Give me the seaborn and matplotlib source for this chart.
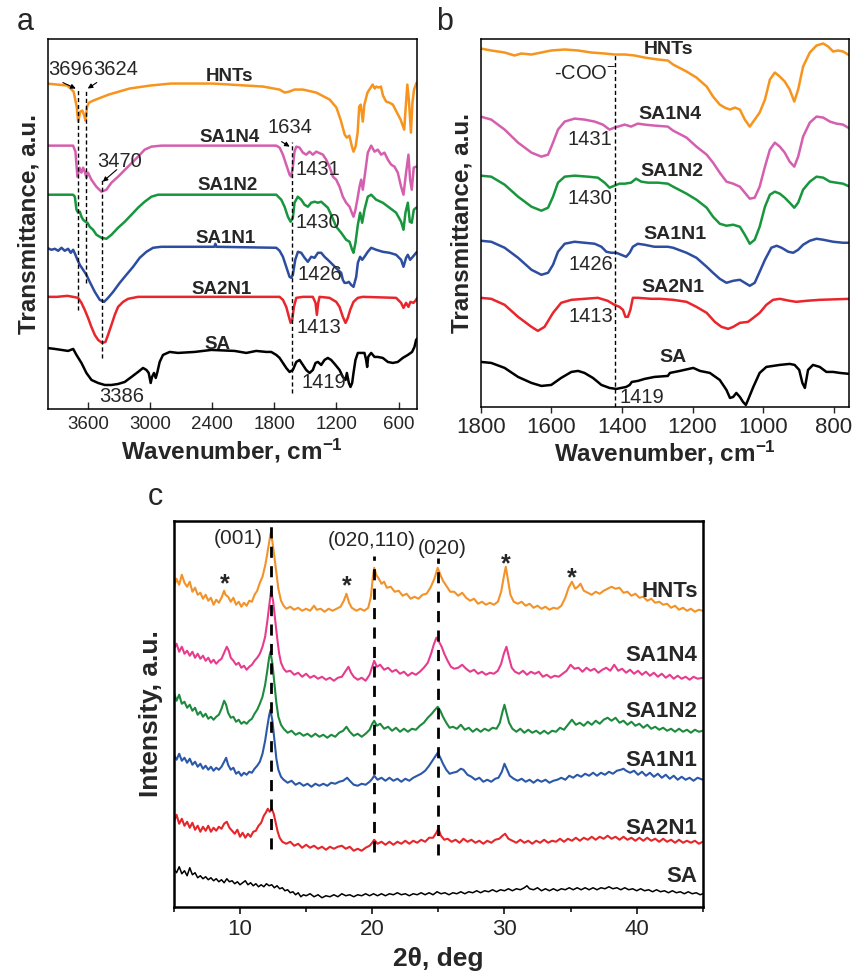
import matplotlib
matplotlib.use("Agg")
import matplotlib.pyplot as plt
import pandas as pd
import seaborn as sns

# ---------- FTIR, full range (panel a): (wavenumber, transmittance a.u., stacked) ----------
ftir_hnts = [(4000, 32.5), (3800, 32.3), (3740, 31.7), (3710, 30.2), (3696, 28.7), (3675, 29.7),
             (3655, 29.8), (3640, 29.4), (3624, 28.8), (3610, 30.2), (3590, 30.6), (3550, 30.8),
             (3400, 31.4), (3200, 32.0), (3000, 32.3), (2800, 32.5), (2400, 32.5), (2230, 32.4),
             (1910, 32.2), (1750, 31.9), (1700, 31.6), (1655, 31.7), (1605, 31.9), (1525, 31.9),
             (1395, 31.6), (1265, 30.9), (1200, 30.1), (1160, 28.9), (1120, 27.4), (1100, 27.1),
             (1075, 27.3), (1050, 26.2), (1035, 25.7), (1015, 26.2), (995, 27.6), (980, 30.2),
             (965, 30.4), (945, 28.7), (930, 30.4), (900, 31.6), (850, 32.4), (830, 32.0),
             (815, 32.2), (790, 32.1), (770, 32.2), (750, 31.3), (720, 30.7), (690, 30.6),
             (655, 30.4), (620, 29.7), (580, 28.9), (545, 27.9), (530, 30.2), (515, 32.4),
             (500, 30.9), (480, 27.6), (465, 30.6), (450, 31.9), (425, 32.6)]
ftir_sa1n4 = [(4000, 26.3), (3745, 26.3), (3722, 25.7), (3703, 23.2), (3683, 24.1), (3664, 23.6),
              (3648, 24.1), (3632, 23.7), (3616, 23.1), (3600, 23.6), (3568, 22.9), (3520, 22.2),
              (3471, 21.7), (3423, 21.9), (3374, 22.6), (3310, 23.2), (3214, 24.2), (3117, 25.2),
              (3053, 25.9), (2988, 26.2), (2892, 26.3), (1781, 26.3), (1749, 26.1), (1717, 25.4),
              (1685, 24.4), (1653, 23.4), (1637, 23.2), (1621, 24.2), (1605, 25.7), (1588, 26.2),
              (1556, 26.1), (1524, 25.6), (1492, 25.4), (1460, 25.7), (1428, 25.4), (1395, 25.7),
              (1331, 25.4), (1299, 24.9), (1267, 24.2), (1234, 23.2), (1202, 22.9), (1170, 22.2),
              (1138, 21.2), (1106, 20.6), (1073, 20.2), (1051, 19.6), (1035, 19.2), (1016, 19.9),
              (993, 21.2), (977, 22.2), (961, 22.9), (945, 21.9), (929, 23.1), (897, 25.6),
              (864, 26.3), (832, 25.7), (800, 25.9), (768, 25.4), (736, 25.6), (703, 24.9),
              (671, 24.4), (639, 24.2), (607, 23.6), (575, 22.2), (552, 21.4), (527, 23.6),
              (504, 25.4), (488, 22.9), (472, 21.9), (453, 24.1), (430, 24.2), (420, 24.2)]
ftir_sa1n2 = [(4000, 21.4), (3745, 21.4), (3728, 21.2), (3712, 19.9), (3696, 19.6), (3680, 19.7),
              (3664, 19.2), (3648, 18.9), (3625, 18.7), (3606, 18.6), (3584, 18.2), (3552, 17.9),
              (3519, 17.4), (3471, 17.1), (3423, 17.0), (3374, 17.4), (3310, 18.1), (3246, 18.7),
              (3181, 19.4), (3117, 20.1), (3053, 20.7), (2988, 21.2), (2924, 21.4), (1781, 21.4),
              (1733, 20.9), (1701, 20.2), (1669, 19.2), (1643, 18.7), (1621, 19.1), (1605, 20.6),
              (1573, 21.2), (1540, 20.9), (1508, 20.4), (1476, 20.2), (1444, 20.6), (1411, 20.7),
              (1379, 20.6), (1347, 20.7), (1315, 20.4), (1283, 20.1), (1251, 19.4), (1202, 18.2),
              (1154, 17.6), (1106, 16.9), (1073, 16.7), (1048, 15.9), (1035, 15.6), (1016, 16.6),
              (993, 18.4), (971, 19.6), (951, 18.6), (929, 19.9), (897, 21.2), (864, 21.4),
              (816, 20.9), (752, 20.6), (687, 20.1), (623, 19.6), (575, 18.7), (552, 17.9),
              (533, 19.6), (510, 20.6), (491, 18.7), (472, 18.6), (452, 19.9), (430, 20.1), (420, 20.1)]
ftir_sa1n1 = [(4000, 16.1), (3954, 15.9), (3921, 16.0), (3889, 15.8), (3857, 16.1), (3825, 15.8),
              (3793, 16.0), (3767, 15.6), (3744, 15.9), (3722, 15.4), (3703, 14.9), (3680, 14.4),
              (3648, 13.9), (3616, 13.4), (3584, 12.7), (3535, 11.7), (3487, 10.9), (3445, 10.7),
              (3407, 11.1), (3358, 11.7), (3294, 12.6), (3230, 13.4), (3165, 14.2), (3101, 15.1),
              (3036, 15.7), (2972, 16.1), (2892, 16.2), (2380, 16.2), (2370, 16.5), (2360, 16.2),
              (1781, 16.1), (1749, 15.8), (1717, 15.2), (1685, 14.2), (1653, 13.2), (1637, 13.1),
              (1621, 13.4), (1598, 14.9), (1572, 15.7), (1540, 15.6), (1508, 15.1), (1476, 14.7),
              (1444, 15.2), (1411, 15.1), (1379, 15.6), (1347, 15.6), (1315, 15.2), (1283, 14.9),
              (1234, 14.4), (1186, 13.9), (1154, 13.6), (1138, 12.9), (1122, 12.6), (1099, 12.6),
              (1080, 12.7), (1058, 12.4), (1035, 12.2), (1009, 13.2), (993, 14.6), (971, 15.2),
              (951, 14.9), (929, 15.2), (897, 15.7), (864, 16.1), (816, 15.9), (752, 15.7),
              (687, 15.6), (623, 15.4), (575, 14.9), (552, 14.2), (527, 15.1), (510, 15.4),
              (488, 14.9), (462, 15.2), (430, 15.6), (420, 15.7)]
ftir_sa2n1 = [(4000, 11.2), (3900, 11.2), (3800, 11.3), (3745, 11.2), (3696, 11.1), (3664, 10.6),
              (3632, 9.9), (3600, 9.1), (3568, 8.2), (3535, 7.4), (3503, 6.9), (3465, 6.6),
              (3432, 6.7), (3407, 7.4), (3374, 8.4), (3342, 9.4), (3310, 10.2), (3262, 10.7),
              (3214, 11.0), (3117, 11.2), (3053, 11.2), (2400, 11.2), (1749, 11.2), (1717, 10.9),
              (1685, 10.2), (1659, 9.2), (1643, 8.6), (1627, 8.9), (1611, 10.2), (1588, 11.1),
              (1524, 11.2), (1428, 11.2), (1402, 10.6), (1389, 9.4), (1376, 10.6), (1363, 11.2),
              (1267, 11.1), (1202, 10.7), (1170, 10.2), (1138, 9.2), (1112, 8.6), (1090, 9.1),
              (1067, 9.9), (1035, 10.7), (993, 11.1), (945, 11.2), (623, 11.1), (575, 10.6),
              (552, 10.1), (527, 10.6), (504, 10.2), (485, 10.7), (456, 10.6), (430, 10.9), (420, 11.1)]
ftir_sa = [(4000, 6.1), (3921, 6.0), (3857, 5.9), (3793, 5.8), (3744, 6.0), (3712, 5.4), (3664, 4.6),
           (3616, 3.6), (3567, 2.9), (3503, 2.6), (3439, 2.4), (3374, 2.4), (3310, 2.5), (3246, 2.7),
           (3181, 3.2), (3117, 3.7), (3069, 4.1), (3036, 3.9), (3014, 3.6), (2995, 2.6), (2982, 3.2),
           (2963, 3.6), (2946, 3.1), (2930, 3.7), (2908, 4.7), (2876, 5.4), (2811, 5.7), (2731, 5.6),
           (2570, 5.7), (2409, 5.9), (2184, 5.8), (2071, 5.6), (1975, 5.8), (1878, 5.7), (1830, 5.7),
           (1781, 5.4), (1749, 5.1), (1717, 4.6), (1685, 4.1), (1653, 3.7), (1621, 3.9), (1588, 4.7),
           (1556, 4.9), (1524, 4.4), (1492, 3.9), (1460, 3.6), (1428, 3.9), (1402, 4.6), (1379, 4.7),
           (1347, 4.4), (1315, 4.9), (1283, 5.1), (1251, 4.9), (1209, 4.4), (1170, 3.9), (1138, 3.2),
           (1112, 2.9), (1099, 3.6), (1080, 2.6), (1064, 2.2), (1048, 2.6), (1035, 3.6), (1016, 4.9),
           (993, 5.6), (961, 5.6), (929, 5.6), (913, 4.9), (903, 4.2), (893, 5.2), (880, 5.4),
           (864, 5.6), (832, 5.2), (800, 5.2), (752, 5.1), (703, 4.7), (655, 4.6), (607, 4.7),
           (559, 5.1), (510, 5.4), (469, 5.7), (446, 6.2), (430, 6.9), (414, 7.1)]

# ---------- FTIR, 1800-750 cm-1 (panel b) ----------
zoom_hnts = [(1800, 35.8), (1770, 35.6), (1732, 35.4), (1704, 35.1), (1685, 35.3), (1656, 35.2),
             (1628, 35.4), (1600, 35.6), (1562, 35.7), (1524, 35.6), (1487, 35.4), (1449, 35.3),
             (1421, 35.2), (1392, 35.2), (1364, 35.1), (1336, 34.9), (1298, 34.7), (1270, 34.6),
             (1255, 34.2), (1217, 33.5), (1189, 32.9), (1160, 32.0), (1142, 31.0), (1123, 30.2),
             (1109, 29.9), (1094, 29.7), (1080, 29.9), (1066, 29.7), (1052, 28.7), (1038, 28.0),
             (1024, 28.7), (1010, 29.4), (995, 30.7), (981, 32.7), (967, 33.4), (953, 33.0),
             (939, 32.5), (925, 31.7), (912, 30.5), (901, 31.7), (887, 34.0), (868, 35.4),
             (849, 36.1), (830, 36.3), (816, 36.0), (802, 35.5), (788, 35.6), (774, 35.5), (755, 35.1)]
zoom_sa1n4 = [(1800, 29.0), (1770, 28.7), (1732, 27.7), (1694, 26.4), (1656, 25.4), (1628, 25.0),
              (1609, 25.2), (1595, 26.4), (1581, 27.7), (1562, 28.5), (1534, 28.8), (1506, 28.7),
              (1477, 28.5), (1454, 28.2), (1435, 27.7), (1421, 27.9), (1411, 28.0), (1392, 28.2),
              (1374, 28.0), (1355, 28.3), (1336, 28.2), (1308, 28.1), (1270, 28.0), (1255, 27.6),
              (1217, 26.9), (1189, 26.0), (1160, 25.2), (1142, 24.4), (1123, 23.4), (1104, 22.5),
              (1085, 22.3), (1066, 22.0), (1052, 21.4), (1038, 20.8), (1024, 20.9), (1010, 22.0),
              (995, 24.0), (981, 25.7), (967, 26.4), (953, 26.0), (939, 25.4), (925, 24.5),
              (912, 24.0), (901, 25.0), (887, 27.0), (868, 28.4), (849, 29.0), (830, 28.9),
              (811, 28.5), (793, 28.3), (774, 28.2), (755, 27.8)]
zoom_sa1n2 = [(1800, 23.1), (1770, 23.0), (1732, 22.2), (1694, 21.0), (1656, 20.0), (1628, 19.6),
              (1609, 19.9), (1595, 21.0), (1581, 22.4), (1562, 23.0), (1534, 23.1), (1496, 23.0),
              (1468, 22.9), (1449, 22.4), (1435, 21.9), (1421, 22.1), (1407, 22.3), (1392, 22.3),
              (1374, 22.4), (1360, 22.8), (1345, 22.5), (1326, 22.4), (1298, 22.4), (1270, 22.3),
              (1255, 22.0), (1217, 21.3), (1189, 20.7), (1160, 19.9), (1142, 19.0), (1123, 18.3),
              (1104, 18.1), (1085, 18.2), (1066, 18.0), (1052, 17.2), (1038, 16.3), (1024, 16.7),
              (1010, 18.0), (995, 20.0), (981, 21.2), (967, 21.5), (953, 21.3), (939, 20.9),
              (925, 20.4), (912, 19.9), (901, 20.4), (887, 21.7), (868, 22.5), (849, 23.0),
              (830, 22.9), (811, 22.5), (793, 22.4), (774, 22.3), (755, 22.0)]
zoom_sa1n1 = [(1800, 16.6), (1770, 16.5), (1732, 15.9), (1694, 14.9), (1656, 13.7), (1628, 13.2),
              (1609, 13.4), (1595, 14.2), (1581, 15.5), (1562, 16.3), (1534, 16.5), (1506, 16.4),
              (1477, 16.3), (1458, 16.0), (1444, 15.5), (1430, 15.4), (1416, 15.4), (1402, 15.2),
              (1388, 15.0), (1378, 15.4), (1369, 16.0), (1355, 16.3), (1336, 16.2), (1308, 16.0),
              (1270, 16.0), (1255, 15.9), (1217, 15.4), (1189, 14.9), (1160, 14.0), (1142, 13.4),
              (1123, 12.8), (1104, 12.4), (1085, 12.6), (1066, 12.7), (1052, 12.4), (1038, 12.1),
              (1024, 12.4), (1010, 13.5), (995, 14.7), (977, 15.9), (962, 16.1), (948, 15.9),
              (929, 15.5), (915, 15.4), (901, 15.7), (887, 16.2), (868, 16.6), (849, 16.8),
              (830, 16.7), (802, 16.5), (774, 16.4), (755, 16.4)]
zoom_sa2n1 = [(1800, 10.9), (1770, 10.8), (1732, 10.2), (1694, 9.0), (1656, 8.0), (1638, 7.6),
              (1619, 8.0), (1595, 9.4), (1572, 10.4), (1543, 10.7), (1506, 10.8), (1468, 10.9),
              (1440, 10.6), (1421, 10.2), (1407, 10.0), (1397, 9.7), (1390, 9.0), (1383, 9.0),
              (1376, 9.7), (1369, 10.9), (1355, 10.9), (1317, 10.8), (1292, 10.8), (1255, 10.7),
              (1217, 10.5), (1189, 10.0), (1160, 9.4), (1137, 8.5), (1118, 8.0), (1099, 7.8),
              (1085, 8.0), (1066, 8.4), (1043, 8.5), (1028, 8.9), (1010, 9.4), (991, 10.2),
              (972, 10.7), (953, 10.8), (925, 10.6), (906, 10.5), (878, 10.6), (840, 10.7), (755, 10.8)]
zoom_sa = [(1800, 4.5), (1770, 4.4), (1732, 3.9), (1694, 3.0), (1656, 2.4), (1628, 2.1), (1600, 2.2),
           (1572, 2.9), (1543, 3.5), (1524, 3.6), (1506, 3.4), (1482, 2.9), (1458, 2.2), (1435, 1.9),
           (1416, 1.8), (1402, 1.9), (1388, 2.0), (1378, 2.2), (1372, 2.5), (1355, 2.6), (1336, 2.8),
           (1308, 3.0), (1270, 3.1), (1264, 3.4), (1236, 3.6), (1198, 3.9), (1179, 3.6), (1151, 3.4),
           (1123, 2.7), (1104, 1.7), (1094, 0.9), (1085, 1.0), (1076, 1.4), (1066, 1.0), (1057, 0.5),
           (1049, 0.2), (1043, 0.7), (1028, 2.0), (1010, 3.4), (991, 4.0), (953, 4.2), (925, 4.3),
           (911, 4.2), (898, 3.7), (889, 2.4), (882, 1.9), (878, 2.7), (873, 3.7), (859, 4.2),
           (840, 4.0), (821, 3.5), (802, 3.5), (783, 3.4), (755, 3.3)]

# ---------- XRD (panel c): (2theta, intensity a.u., stacked) ----------
xrd_hnts = [(5.0, 31.9), (5.2, 32.8), (5.4, 32.2), (5.6, 33.2), (5.8, 32.4), (6.0, 32.0), (6.2, 32.5),
            (6.4, 31.5), (6.6, 31.9), (6.8, 31.2), (7.0, 31.4), (7.2, 30.8), (7.4, 31.2), (7.6, 30.6),
            (7.8, 30.9), (8.0, 30.2), (8.2, 30.7), (8.4, 30.4), (8.6, 30.9), (8.8, 31.6), (8.9, 31.2),
            (9.1, 31.0), (9.3, 30.5), (9.5, 30.9), (9.7, 30.2), (9.9, 30.5), (10.1, 30.0), (10.3, 30.4),
            (10.5, 30.1), (10.7, 30.6), (10.9, 30.5), (11.1, 31.2), (11.3, 31.6), (11.5, 32.4),
            (11.7, 33.0), (11.9, 34.1), (12.05, 35.2), (12.2, 36.4), (12.32, 37.4), (12.45, 36.5),
            (12.6, 35.0), (12.75, 33.4), (12.9, 31.8), (13.1, 30.6), (13.3, 30.1), (13.5, 29.8),
            (13.8, 30.0), (14.1, 29.7), (14.4, 29.9), (14.7, 29.6), (15.0, 29.8), (15.3, 29.6),
            (15.6, 30.1), (15.8, 29.7), (16.1, 29.8), (16.4, 29.5), (16.7, 29.8), (17.0, 29.6),
            (17.3, 29.8), (17.6, 30.0), (17.85, 30.6), (18.05, 31.3), (18.25, 30.4), (18.45, 29.9),
            (18.8, 29.6), (19.1, 29.8), (19.4, 29.6), (19.7, 29.9), (19.9, 31.0), (20.05, 33.0),
            (20.15, 33.9), (20.3, 33.2), (20.5, 32.8), (20.7, 32.3), (20.9, 32.5), (21.1, 31.9),
            (21.4, 32.0), (21.7, 31.5), (22.0, 31.6), (22.3, 31.1), (22.6, 31.3), (22.9, 30.8),
            (23.2, 31.0), (23.5, 30.8), (23.8, 31.2), (24.1, 31.3), (24.4, 31.9), (24.7, 32.8),
            (24.95, 33.9), (25.15, 33.2), (25.35, 32.6), (25.6, 32.1), (25.9, 31.5), (26.2, 31.5),
            (26.5, 31.1), (26.8, 31.4), (27.1, 30.9), (27.4, 30.6), (27.7, 30.8), (28.0, 30.3),
            (28.3, 30.5), (28.6, 30.2), (28.9, 30.4), (29.2, 30.2), (29.5, 30.5), (29.75, 31.5),
            (29.95, 33.0), (30.1, 34.0), (30.25, 32.8), (30.45, 31.2), (30.7, 30.5), (31.0, 30.3),
            (31.3, 30.5), (31.6, 30.1), (31.9, 30.3), (32.2, 29.9), (32.5, 30.1), (32.8, 29.8),
            (33.1, 30.0), (33.4, 29.7), (33.7, 29.9), (34.0, 29.8), (34.3, 30.1), (34.6, 30.9),
            (34.85, 31.9), (35.1, 32.5), (35.35, 31.8), (35.55, 32.0), (35.75, 32.3), (36.0, 31.6),
            (36.3, 31.4), (36.6, 31.2), (36.9, 31.5), (37.2, 31.3), (37.5, 31.6), (37.8, 31.8),
            (38.1, 32.0), (38.4, 31.8), (38.7, 31.9), (39.0, 31.4), (39.3, 31.5), (39.6, 31.1),
            (39.9, 31.3), (40.2, 30.9), (40.5, 31.0), (40.8, 30.6), (41.1, 30.8), (41.4, 30.4),
            (41.7, 30.5), (42.0, 30.2), (42.3, 30.3), (42.6, 29.9), (42.9, 30.1), (43.2, 29.7),
            (43.5, 29.9), (43.8, 29.6), (44.1, 29.8), (44.4, 29.5), (44.7, 29.7), (45.0, 29.6)]
xrd_sa1n4 = [(5.0, 25.8), (5.2, 26.3), (5.4, 25.5), (5.6, 26.0), (5.8, 25.3), (6.0, 25.6), (6.2, 25.1),
             (6.4, 25.5), (6.6, 24.9), (6.8, 25.3), (7.0, 24.8), (7.2, 25.1), (7.4, 24.6), (7.6, 24.9),
             (7.8, 24.4), (8.0, 24.7), (8.2, 24.3), (8.4, 24.6), (8.6, 24.8), (8.8, 25.4), (9.0, 26.0),
             (9.15, 25.6), (9.3, 24.9), (9.5, 24.6), (9.7, 24.2), (9.9, 24.4), (10.1, 23.9), (10.3, 24.1),
             (10.5, 23.7), (10.7, 24.0), (10.9, 24.2), (11.1, 24.6), (11.3, 24.9), (11.5, 25.3),
             (11.7, 26.0), (11.9, 27.0), (12.05, 28.4), (12.2, 30.0), (12.35, 31.6), (12.5, 30.6),
             (12.65, 28.8), (12.8, 27.0), (12.95, 25.4), (13.1, 24.4), (13.3, 23.8), (13.5, 23.5),
             (13.8, 23.6), (14.1, 23.2), (14.4, 23.4), (14.7, 23.0), (15.0, 23.3), (15.3, 22.9),
             (15.6, 23.1), (15.9, 22.8), (16.2, 23.0), (16.5, 22.7), (16.8, 22.9), (17.1, 22.6),
             (17.4, 22.9), (17.7, 23.0), (17.95, 23.5), (18.2, 24.0), (18.4, 23.4), (18.6, 23.0),
             (18.9, 22.7), (19.2, 22.9), (19.5, 22.6), (19.8, 23.2), (20.0, 24.0), (20.15, 24.6),
             (20.35, 24.0), (20.6, 24.2), (20.9, 23.7), (21.2, 23.9), (21.5, 23.5), (21.8, 23.7),
             (22.1, 23.3), (22.4, 23.5), (22.7, 23.1), (23.0, 23.4), (23.3, 23.2), (23.6, 23.5),
             (23.9, 23.9), (24.2, 24.4), (24.45, 25.3), (24.65, 26.2), (24.85, 26.9), (25.05, 26.5),
             (25.25, 26.0), (25.45, 25.3), (25.7, 24.6), (25.95, 24.0), (26.2, 23.8), (26.5, 23.9),
             (26.8, 24.2), (27.1, 23.8), (27.4, 23.5), (27.7, 23.7), (28.0, 23.3), (28.3, 23.5),
             (28.6, 23.2), (28.9, 23.4), (29.2, 23.3), (29.5, 23.6), (29.75, 24.3), (29.95, 25.3),
             (30.15, 26.0), (30.35, 24.9), (30.55, 23.9), (30.8, 23.5), (31.1, 23.3), (31.4, 23.6),
             (31.7, 23.2), (32.0, 23.5), (32.3, 23.3), (32.6, 23.5), (32.9, 23.0), (33.2, 23.2),
             (33.5, 22.9), (33.8, 23.1), (34.1, 23.0), (34.4, 23.3), (34.7, 23.6), (35.0, 24.2),
             (35.3, 23.8), (35.6, 23.9), (35.9, 23.5), (36.2, 23.9), (36.5, 23.6), (36.8, 23.8),
             (37.1, 23.4), (37.4, 23.7), (37.7, 23.9), (38.0, 23.6), (38.3, 24.2), (38.6, 23.6),
             (38.9, 23.8), (39.2, 23.4), (39.5, 23.7), (39.8, 23.3), (40.1, 23.6), (40.4, 23.2),
             (40.7, 23.5), (41.0, 23.1), (41.3, 23.4), (41.6, 23.0), (41.9, 23.3), (42.2, 22.9),
             (42.5, 23.2), (42.8, 22.8), (43.1, 23.1), (43.4, 22.8), (43.7, 23.0), (44.0, 22.7),
             (44.3, 23.0), (44.6, 22.8), (45.0, 22.9)]
xrd_sa1n2 = [(5.0, 21.4), (5.2, 20.6), (5.4, 21.2), (5.6, 20.3), (5.8, 20.5), (6.0, 19.9), (6.2, 20.2),
             (6.4, 19.6), (6.6, 19.9), (6.8, 19.2), (7.0, 19.5), (7.2, 19.0), (7.4, 19.3), (7.6, 18.8),
             (7.8, 19.0), (8.0, 18.7), (8.2, 19.0), (8.4, 19.2), (8.6, 19.8), (8.8, 20.6), (8.95, 20.2),
             (9.1, 19.4), (9.3, 18.9), (9.5, 19.0), (9.7, 18.5), (9.9, 18.7), (10.1, 18.3), (10.3, 18.5),
             (10.5, 18.3), (10.7, 18.6), (10.9, 18.8), (11.1, 19.3), (11.3, 19.7), (11.5, 20.3),
             (11.7, 21.0), (11.9, 22.2), (12.05, 23.5), (12.2, 24.9), (12.3, 25.5), (12.45, 24.3),
             (12.6, 22.4), (12.75, 20.4), (12.9, 19.0), (13.1, 18.2), (13.3, 17.8), (13.6, 17.4),
             (13.9, 17.6), (14.2, 17.2), (14.5, 17.4), (14.8, 17.1), (15.1, 17.3), (15.4, 17.0),
             (15.7, 17.3), (16.0, 17.0), (16.3, 17.2), (16.6, 16.9), (16.9, 17.2), (17.2, 17.0),
             (17.5, 17.4), (17.8, 17.6), (18.05, 18.0), (18.3, 17.5), (18.6, 17.1), (18.9, 17.3),
             (19.2, 17.0), (19.5, 17.3), (19.8, 17.7), (20.0, 18.3), (20.15, 18.6), (20.35, 18.1),
             (20.6, 18.3), (20.9, 17.8), (21.2, 18.0), (21.5, 17.6), (21.8, 17.9), (22.1, 17.5),
             (22.4, 17.8), (22.7, 17.5), (23.0, 17.8), (23.3, 17.7), (23.6, 18.1), (23.9, 18.4),
             (24.2, 18.9), (24.5, 19.3), (24.75, 19.7), (24.95, 20.0), (25.15, 19.6), (25.35, 19.0),
             (25.6, 18.4), (25.85, 17.9), (26.1, 18.0), (26.4, 17.8), (26.7, 18.2), (27.0, 17.7),
             (27.3, 17.9), (27.6, 17.5), (27.9, 17.8), (28.2, 17.5), (28.5, 17.8), (28.8, 17.6),
             (29.1, 17.9), (29.4, 17.8), (29.65, 18.4), (29.85, 19.5), (30.0, 20.2), (30.15, 19.4),
             (30.35, 18.4), (30.6, 17.8), (30.9, 17.5), (31.2, 17.8), (31.5, 17.4), (31.8, 17.7),
             (32.1, 17.4), (32.4, 17.6), (32.7, 17.3), (33.0, 17.6), (33.3, 17.3), (33.6, 17.6),
             (33.9, 17.5), (34.2, 17.9), (34.5, 17.7), (34.8, 18.2), (35.1, 18.7), (35.4, 18.2),
             (35.7, 18.4), (36.0, 18.1), (36.3, 18.5), (36.6, 18.2), (36.9, 18.6), (37.2, 18.3),
             (37.5, 18.7), (37.8, 18.9), (38.1, 18.6), (38.4, 18.9), (38.7, 18.4), (39.0, 18.6),
             (39.3, 18.2), (39.6, 18.5), (39.9, 18.1), (40.2, 18.3), (40.5, 17.9), (40.8, 18.2),
             (41.1, 17.8), (41.4, 18.0), (41.7, 17.7), (42.0, 17.9), (42.3, 17.6), (42.6, 17.8),
             (42.9, 17.5), (43.2, 17.8), (43.5, 17.5), (43.8, 17.7), (44.1, 17.4), (44.4, 17.7),
             (44.7, 17.5), (45.0, 17.6)]
xrd_sa1n1 = [(5.0, 15.2), (5.2, 14.7), (5.4, 15.3), (5.6, 14.6), (5.8, 14.9), (6.0, 14.4), (6.2, 14.8),
             (6.4, 14.2), (6.6, 14.5), (6.8, 14.0), (7.0, 14.3), (7.2, 13.8), (7.4, 14.1), (7.6, 13.7),
             (7.8, 14.0), (8.0, 13.6), (8.2, 13.9), (8.4, 13.7), (8.6, 14.0), (8.8, 14.5), (8.95, 14.9),
             (9.1, 14.2), (9.3, 13.7), (9.5, 13.9), (9.7, 13.3), (9.9, 13.5), (10.1, 13.1), (10.3, 13.4),
             (10.5, 13.2), (10.7, 13.5), (10.9, 13.4), (11.1, 13.8), (11.3, 14.1), (11.5, 14.5),
             (11.7, 15.3), (11.9, 16.6), (12.05, 17.9), (12.2, 19.1), (12.3, 19.7), (12.45, 18.6),
             (12.6, 16.7), (12.75, 14.8), (12.9, 13.7), (13.1, 13.0), (13.3, 12.7), (13.6, 12.4),
             (13.9, 12.6), (14.2, 12.2), (14.5, 12.4), (14.8, 12.1), (15.1, 12.3), (15.4, 12.0),
             (15.7, 12.3), (16.0, 12.1), (16.3, 12.3), (16.6, 12.1), (16.9, 12.4), (17.2, 12.3),
             (17.5, 12.5), (17.8, 12.6), (18.1, 12.9), (18.3, 12.6), (18.6, 12.2), (18.9, 12.1),
             (19.2, 12.3), (19.5, 12.2), (19.8, 12.5), (20.0, 12.8), (20.15, 13.1), (20.4, 12.7),
             (20.7, 12.9), (21.0, 12.6), (21.3, 12.9), (21.6, 12.6), (21.9, 12.8), (22.2, 12.5),
             (22.5, 12.8), (22.8, 12.6), (23.1, 12.9), (23.4, 13.1), (23.7, 13.3), (24.0, 13.6),
             (24.3, 14.1), (24.55, 14.6), (24.8, 15.1), (24.95, 15.4), (25.15, 14.9), (25.35, 14.3),
             (25.6, 13.7), (25.85, 13.3), (26.1, 13.4), (26.4, 13.5), (26.7, 13.8), (26.9, 13.7),
             (27.2, 13.2), (27.5, 13.0), (27.8, 12.7), (28.1, 12.9), (28.4, 12.5), (28.7, 12.7),
             (29.0, 12.5), (29.3, 12.8), (29.55, 12.9), (29.8, 13.5), (30.0, 14.3), (30.2, 13.7),
             (30.4, 13.1), (30.7, 12.8), (31.0, 12.6), (31.3, 12.8), (31.6, 12.5), (31.9, 12.7),
             (32.2, 12.4), (32.5, 12.7), (32.8, 12.5), (33.1, 12.7), (33.4, 12.4), (33.7, 12.6),
             (34.0, 12.7), (34.3, 12.9), (34.6, 12.7), (34.9, 13.1), (35.2, 12.9), (35.5, 13.2),
             (35.8, 13.0), (36.1, 13.3), (36.4, 13.1), (36.7, 13.4), (37.0, 13.1), (37.3, 13.4),
             (37.6, 13.2), (37.9, 13.5), (38.2, 13.3), (38.5, 13.6), (38.8, 13.7), (39.0, 13.8),
             (39.2, 13.6), (39.5, 13.4), (39.8, 13.6), (40.1, 13.2), (40.4, 13.5), (40.7, 13.1),
             (41.0, 13.4), (41.3, 13.0), (41.6, 13.3), (41.9, 12.9), (42.2, 13.2), (42.5, 12.8),
             (42.8, 13.1), (43.1, 12.7), (43.4, 13.0), (43.7, 12.7), (44.0, 12.9), (44.3, 12.6),
             (44.6, 12.9), (45.0, 12.7)]
xrd_sa2n1 = [(5.0, 8.5), (5.2, 9.2), (5.4, 8.3), (5.6, 8.8), (5.8, 8.1), (6.0, 8.5), (6.2, 7.9),
             (6.4, 8.4), (6.6, 7.7), (6.8, 8.1), (7.0, 7.5), (7.2, 8.0), (7.4, 7.6), (7.6, 8.1),
             (7.8, 7.5), (8.0, 7.9), (8.2, 7.6), (8.4, 8.0), (8.6, 7.8), (8.8, 8.3), (9.0, 8.5),
             (9.2, 7.9), (9.4, 7.6), (9.6, 7.3), (9.8, 7.7), (10.0, 7.0), (10.2, 7.4), (10.4, 6.9),
             (10.6, 7.3), (10.8, 7.0), (11.0, 7.5), (11.2, 7.6), (11.4, 8.1), (11.6, 8.4), (11.8, 9.1),
             (11.95, 9.4), (12.1, 9.8), (12.25, 9.5), (12.4, 9.8), (12.55, 9.3), (12.7, 8.4),
             (12.85, 7.5), (13.0, 6.9), (13.2, 6.5), (13.5, 6.3), (13.8, 6.5), (14.1, 6.1), (14.4, 6.3),
             (14.7, 5.9), (15.0, 6.2), (15.3, 5.9), (15.6, 6.1), (15.9, 5.8), (16.2, 6.0), (16.5, 5.7),
             (16.8, 6.0), (17.1, 5.8), (17.4, 6.0), (17.7, 6.1), (18.0, 5.8), (18.3, 6.0), (18.6, 5.6),
             (18.9, 5.8), (19.2, 5.6), (19.5, 5.9), (19.8, 6.1), (20.0, 6.4), (20.15, 6.7), (20.4, 6.3),
             (20.7, 6.5), (21.0, 6.2), (21.3, 6.5), (21.6, 6.2), (21.9, 6.5), (22.2, 6.3), (22.5, 6.6),
             (22.8, 6.3), (23.1, 6.6), (23.4, 6.4), (23.7, 6.7), (24.0, 6.5), (24.3, 6.9), (24.6, 6.9),
             (24.85, 7.4), (25.0, 7.8), (25.2, 7.1), (25.45, 6.7), (25.7, 6.8), (26.0, 6.5), (26.3, 6.7),
             (26.6, 6.4), (26.9, 6.8), (27.2, 6.5), (27.5, 6.7), (27.8, 6.4), (28.1, 6.6), (28.4, 6.3),
             (28.7, 6.6), (29.0, 6.4), (29.3, 6.7), (29.6, 6.8), (29.85, 7.1), (30.05, 7.3), (30.3, 6.8),
             (30.6, 6.6), (30.9, 6.4), (31.2, 6.7), (31.5, 6.4), (31.8, 6.6), (32.1, 6.3), (32.4, 6.6),
             (32.7, 6.4), (33.0, 6.7), (33.3, 6.4), (33.6, 6.6), (33.9, 6.5), (34.2, 6.8), (34.5, 6.5),
             (34.8, 6.8), (35.1, 6.6), (35.4, 6.9), (35.7, 6.6), (36.0, 6.9), (36.3, 6.7), (36.6, 7.0),
             (36.9, 6.7), (37.2, 7.0), (37.5, 6.8), (37.8, 7.1), (38.1, 6.8), (38.4, 7.0), (38.7, 6.7),
             (39.0, 7.0), (39.3, 6.7), (39.6, 6.9), (39.9, 6.6), (40.2, 6.9), (40.5, 6.6), (40.8, 6.9),
             (41.1, 6.6), (41.4, 6.8), (41.7, 6.5), (42.0, 6.8), (42.3, 6.5), (42.6, 6.7), (42.9, 6.4),
             (43.2, 6.7), (43.5, 6.4), (43.8, 6.6), (44.1, 6.4), (44.4, 6.6), (44.7, 6.3), (45.0, 6.5)]
xrd_sa = [(5.0, 3.8), (5.2, 3.4), (5.4, 4.0), (5.6, 3.3), (5.8, 3.6), (6.0, 3.1), (6.2, 3.9), (6.4, 3.2),
          (6.6, 3.4), (6.8, 2.9), (7.0, 3.1), (7.2, 2.8), (7.4, 3.0), (7.6, 2.7), (7.8, 2.9), (8.0, 2.6),
          (8.2, 2.8), (8.4, 2.5), (8.6, 2.7), (8.8, 2.4), (9.0, 2.8), (9.2, 2.5), (9.4, 2.6), (9.6, 2.3),
          (9.8, 2.5), (10.0, 2.2), (10.2, 2.4), (10.4, 2.6), (10.6, 2.2), (10.8, 2.4), (11.0, 2.1),
          (11.2, 2.3), (11.4, 2.0), (11.6, 2.2), (11.8, 2.0), (12.0, 2.3), (12.2, 2.1), (12.4, 2.2),
          (12.6, 1.9), (12.8, 2.1), (13.0, 1.8), (13.2, 1.9), (13.4, 1.6), (13.6, 1.7), (13.8, 1.4),
          (14.0, 1.5), (14.2, 1.2), (14.4, 1.4), (14.6, 1.0), (14.8, 1.2), (15.0, 1.1), (15.3, 1.3),
          (15.6, 1.0), (15.9, 1.2), (16.2, 0.9), (16.5, 1.1), (16.8, 1.0), (17.1, 1.2), (17.4, 1.0),
          (17.7, 1.3), (18.0, 1.1), (18.3, 1.2), (18.6, 1.0), (18.9, 1.2), (19.2, 1.1), (19.5, 1.3),
          (19.8, 1.1), (20.1, 1.3), (20.4, 1.1), (20.7, 1.3), (21.0, 1.1), (21.3, 1.3), (21.6, 1.2),
          (21.9, 1.4), (22.2, 1.2), (22.5, 1.3), (22.8, 1.1), (23.1, 1.3), (23.4, 1.2), (23.7, 1.4),
          (24.0, 1.2), (24.3, 1.4), (24.6, 1.2), (24.9, 1.5), (25.2, 1.3), (25.5, 1.4), (25.8, 1.2),
          (26.1, 1.4), (26.4, 1.3), (26.7, 1.5), (27.0, 1.3), (27.3, 1.5), (27.6, 1.4), (27.9, 1.6),
          (28.2, 1.4), (28.5, 1.6), (28.8, 1.5), (29.1, 1.7), (29.4, 1.5), (29.7, 1.7), (30.0, 1.6),
          (30.3, 1.8), (30.6, 1.6), (30.9, 1.8), (31.2, 1.7), (31.5, 1.9), (31.7, 2.1), (31.9, 1.8),
          (32.2, 1.7), (32.5, 1.9), (32.8, 1.6), (33.1, 1.8), (33.4, 1.6), (33.7, 1.8), (34.0, 1.6),
          (34.3, 1.8), (34.6, 1.7), (34.9, 1.9), (35.2, 1.7), (35.5, 1.9), (35.8, 1.7), (36.1, 1.9),
          (36.4, 1.7), (36.7, 1.9), (37.0, 1.7), (37.3, 1.9), (37.6, 1.8), (37.9, 2.0), (38.2, 1.8),
          (38.5, 1.9), (38.8, 1.7), (39.1, 1.9), (39.4, 1.7), (39.7, 1.8), (40.0, 1.6), (40.3, 1.8),
          (40.6, 1.6), (40.9, 1.7), (41.2, 1.5), (41.5, 1.7), (41.8, 1.5), (42.1, 1.6), (42.4, 1.4),
          (42.7, 1.6), (43.0, 1.4), (43.3, 1.5), (43.6, 1.3), (43.9, 1.5), (44.2, 1.3), (44.5, 1.4),
          (44.8, 1.2), (45.0, 1.3)]

samples = ["HNTs", "SA1N4", "SA1N2", "SA1N1", "SA2N1", "SA"]
ftir_colors = ["#F7941D", "#D45FAF", "#18963E", "#2D4DA0", "#E8262B", "#000000"]
xrd_colors = ["#F39229", "#E73C8E", "#1E8A3E", "#2B58A8", "#E5262A", "#000000"]

# label positions (x, y) in data units
ftir_label_pos = [(2232, 33.2), (2232, 27.1), (2251, 22.3), (2270, 17.0), (2308, 11.9), (2347, 6.4)]
zoom_label_pos = [(1269, 35.7), (1264, 29.2), (1259, 23.5), (1250, 17.2), (1255, 11.9), (1255, 4.9)]
xrd_label_y = [31.5, 25.1, 19.5, 14.6, 7.8, 3.0]

sns.set_theme(style="ticks")
plt.rcParams['font.family'] = ['Liberation Sans', 'DejaVu Sans']
plt.rcParams['mathtext.fontset'] = 'custom'
plt.rcParams['mathtext.rm'] = 'Liberation Sans'
plt.rcParams['mathtext.bf'] = 'Liberation Sans:bold'
plt.rcParams['mathtext.it'] = 'Liberation Sans:italic'


def draw(ax, pts, color, lw):
    df = pd.DataFrame(pts, columns=["x", "y"])
    sns.lineplot(data=df, x="x", y="y", color=color, linewidth=lw, ax=ax,
                 estimator=None, sort=False)


def frame(ax, lw):
    for s in ax.spines.values():
        s.set_visible(True)
        s.set_color("black")
        s.set_linewidth(lw)
    ax.set_yticks([])
    ax.set_facecolor("white")


fig = plt.figure(figsize=(8.52, 9.75), dpi=100)
ax_a = fig.add_axes([0.056, 0.5805, 0.433, 0.379])
ax_b = fig.add_axes([0.5641, 0.5826, 0.4324, 0.3769])
ax_c = fig.add_axes([0.2041, 0.0700, 0.6208, 0.3959])

ftir_full = [ftir_hnts, ftir_sa1n4, ftir_sa1n2, ftir_sa1n1, ftir_sa2n1, ftir_sa]
ftir_zoom = [zoom_hnts, zoom_sa1n4, zoom_sa1n2, zoom_sa1n1, zoom_sa2n1, zoom_sa]
xrd_all = [xrd_hnts, xrd_sa1n4, xrd_sa1n2, xrd_sa1n1, xrd_sa2n1, xrd_sa]

dash_thin = (0, (3, 2))

# ---------------- panel a ----------------
for pts, col, name, pos in zip(ftir_full, ftir_colors, samples, ftir_label_pos):
    draw(ax_a, pts, col, 1.8)
    ax_a.text(pos[0], pos[1], name, fontsize=13.5, fontweight="bold", ha="center", va="center")
for wn, y0, y1 in [(3696, 9.9, 31.9), (3624, 12.6, 31.9), (3470, 5.1, 22.9), (1634, 1.6, 26.7)]:
    ax_a.plot([wn, wn], [y0, y1], color="black", lw=1.0, ls=dash_thin)
ax_a.text(3770, 33.9, "3696", fontsize=14.5, ha="center", va="center")
ax_a.text(3330, 33.9, "3624", fontsize=14.5, ha="center", va="center")
ax_a.text(3294, 24.7, "3470", fontsize=14.5, ha="center", va="center")
ax_a.text(1652, 28.1, "1634", fontsize=14.5, ha="center", va="center")
for lab, x, y in [("1431", 1598, 23.9), ("1430", 1598, 18.6), ("1426", 1572, 13.4),
                  ("1413", 1588, 8.1), ("1419", 1540, 2.6)]:
    ax_a.text(x, y, lab, fontsize=14.5, ha="left", va="center")
ax_a.text(3275, 1.2, "3386", fontsize=14.5, ha="center", va="center")
arrow = dict(arrowstyle="-|>", color="black", lw=0.8, mutation_scale=7, shrinkA=0, shrinkB=0)
ax_a.annotate("", xy=(3719, 32.0), xytext=(3844, 32.6), arrowprops=arrow)
ax_a.annotate("", xy=(3603, 32.0), xytext=(3516, 32.6), arrowprops=arrow)
ax_a.annotate("", xy=(3458, 22.7), xytext=(3323, 23.9), arrowprops=arrow)
ax_a.annotate("", xy=(1652, 26.2), xytext=(1730, 26.7), arrowprops=arrow)
ax_a.set_xlim(3990, 425)
ax_a.set_ylim(0, 36.9)
frame(ax_a, 1.1)
ax_a.set_xticks([3600, 3000, 2400, 1800, 1200, 600])
ax_a.tick_params(axis="x", direction="in", length=5, width=1, labelsize=13.5, pad=5)
ax_a.set_xlabel("Wavenumber, cm$^{\\mathbf{-1}}$", fontsize=17.5, fontweight="bold", labelpad=3)
ax_a.set_ylabel("Transmittance, a.u.", fontsize=17.5, fontweight="bold", labelpad=5)

# ---------------- panel b ----------------
for pts, col, name, pos in zip(ftir_zoom, ftir_colors, samples, zoom_label_pos):
    draw(ax_b, pts, col, 1.8)
    ax_b.text(pos[0], pos[1], name, fontsize=14, fontweight="bold", ha="center", va="center")
ax_b.plot([1419, 1419], [0, 35.2], color="black", lw=1.0, ls=dash_thin)
ax_b.text(1505, 33.3, "-COO$^{-}$", fontsize=14.5, ha="center", va="center")
for lab, x, y in [("1431", 1490, 26.7), ("1430", 1490, 20.8), ("1426", 1488, 14.2),
                  ("1413", 1488, 9.0), ("1419", 1343, 0.9)]:
    ax_b.text(x, y, lab, fontsize=14.5, ha="center", va="center")
ax_b.set_xlim(1800, 757)
ax_b.set_ylim(0, 36.7)
frame(ax_b, 1.1)
ax_b.set_xticks([1800, 1600, 1400, 1200, 1000, 800])
ax_b.tick_params(axis="x", direction="out", length=4, width=1, labelsize=16, pad=3)
ax_b.set_xlabel("Wavenumber, cm$^{\\mathbf{-1}}$", fontsize=17.5, fontweight="bold", labelpad=1)
ax_b.set_ylabel("Transmittance, a.u.", fontsize=17.5, fontweight="bold", labelpad=5)

# ---------------- panel c ----------------
for pts, col, name, ly in zip(xrd_all, xrd_colors, samples, xrd_label_y):
    draw(ax_c, pts, col, 1.1 if name == "SA" else 1.5)
    ax_c.text(44.6, ly, name, fontsize=16, fontweight="bold", ha="right", va="center")
for tt, y0, y1 in [(12.35, 5.8, 38.6), (20.1, 5.5, 35.1), (25.0, 5.2, 34.9)]:
    ax_c.plot([tt, tt], [y0, y1], color="black", lw=2.0, ls=(0, (4, 3)))
ax_c.text(9.87, 36.8, "(001)", fontsize=15, ha="center", va="center")
ax_c.text(20.0, 36.6, "(020,110)", fontsize=15, ha="center", va="center")
ax_c.text(25.3, 35.8, "(020)", fontsize=15, ha="center", va="center")
for sx, sy in [(8.87, 32.2), (18.07, 32.0), (30.1, 34.2), (35.1, 32.8)]:
    ax_c.text(sx, sy, "*", fontsize=18, fontweight="bold", ha="center", va="center")
ax_c.set_xlim(5, 45)
ax_c.set_ylim(0, 38.6)
frame(ax_c, 1.8)
ax_c.set_xticks([10, 20, 30, 40])
ax_c.set_xticks([5, 15, 25, 35, 45], minor=True)
ax_c.tick_params(axis="x", which="major", direction="out", length=5, width=1.3, labelsize=16, pad=4)
ax_c.tick_params(axis="x", which="minor", direction="out", length=3.5, width=1.3)
ax_c.set_xlabel("2θ, deg", fontsize=19, fontweight="bold", labelpad=5)
ax_c.set_ylabel("Intensity, a.u.", fontsize=19, fontweight="bold", labelpad=8)

fig.text(25 / 852, 1 - 22 / 975, "a", fontsize=22, ha="center", va="center")
fig.text(445 / 852, 1 - 22 / 975, "b", fontsize=22, ha="center", va="center")
fig.text(155 / 852, 1 - 497 / 975, "c", fontsize=22, ha="center", va="center")

fig.savefig("out.png", dpi=100, facecolor="white")
